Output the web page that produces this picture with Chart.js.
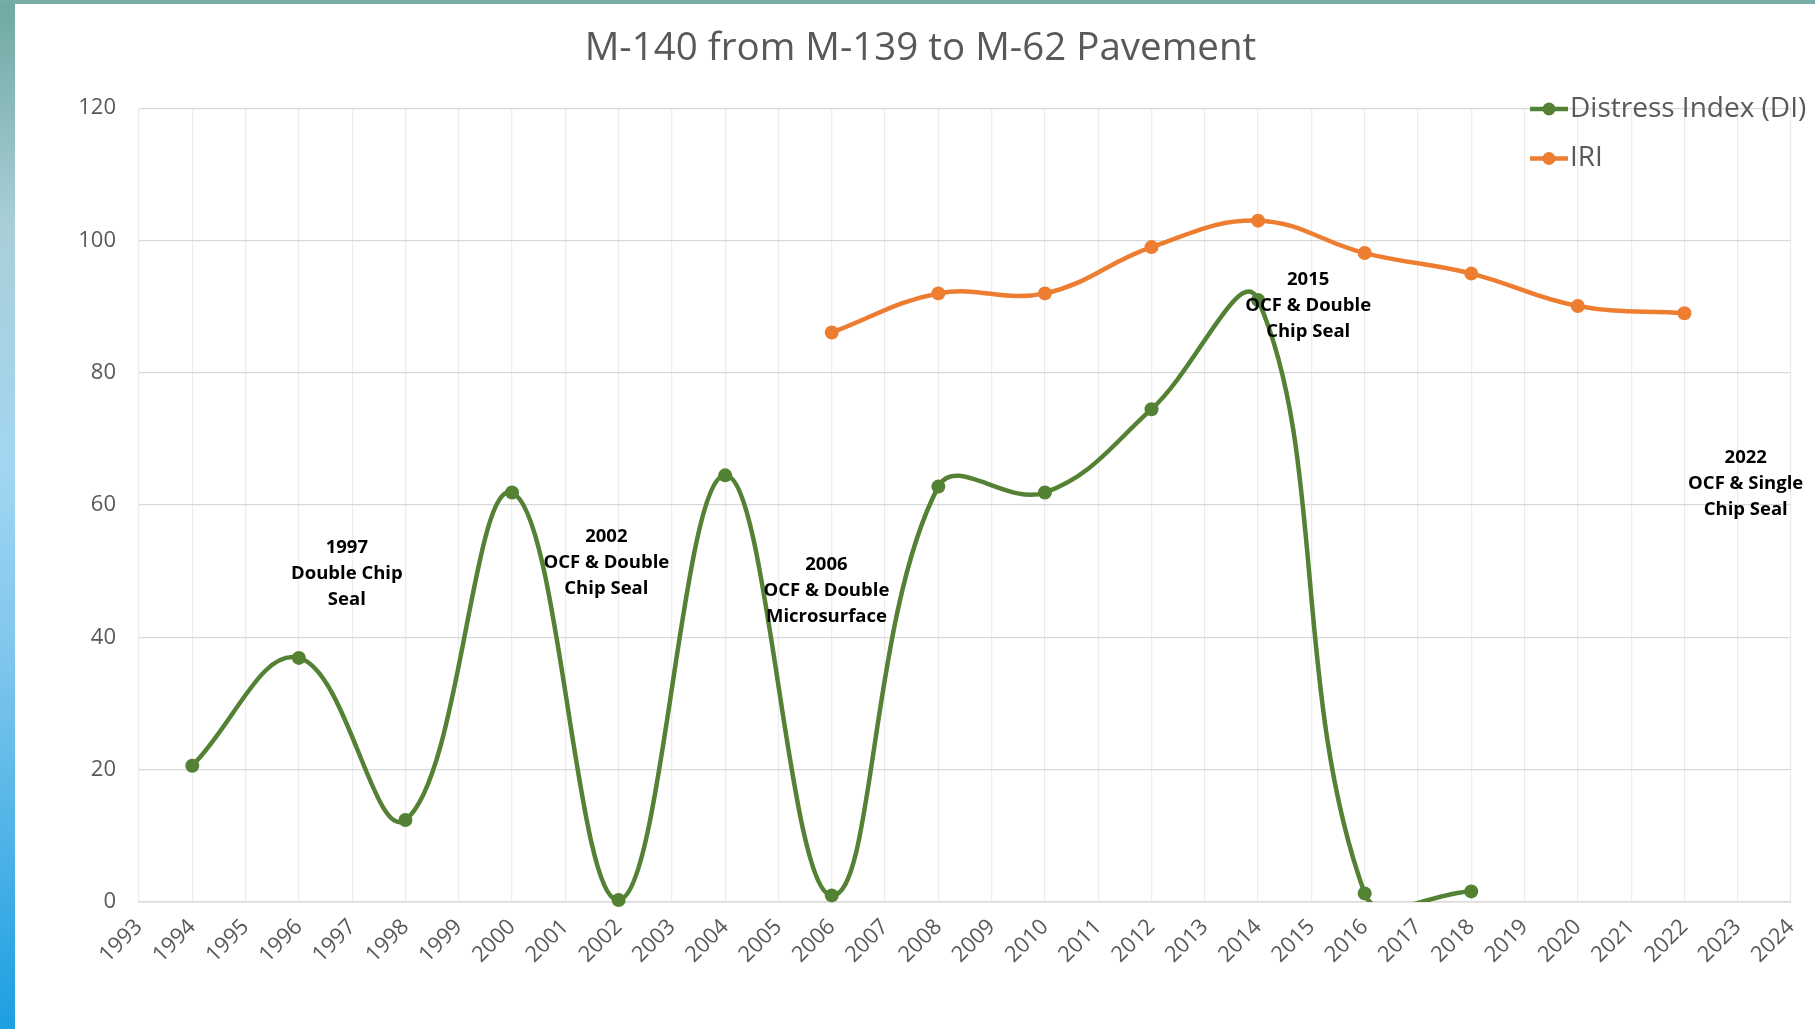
<!DOCTYPE html>
<html>
<head>
<meta charset="utf-8">
<script src="https://cdn.jsdelivr.net/npm/chart.js@4.4.1/dist/chart.umd.min.js"></script>
<style>
  html, body { margin: 0; padding: 0; background: #fff; overflow: hidden; }
  #wrap { position: relative; width: 1815px; height: 1029px; background: #fff; }
  .strip-left {
    position: absolute; left: 0; top: 0; width: 15px; height: 1029px;
    background: linear-gradient(to bottom, #6fa8a2 0%, #a9cfd8 22%, #a3d6f2 45%, #7cc5ec 65%, #1d9fe2 100%);
  }
  .strip-top { position: absolute; left: 0; top: 0; width: 1815px; height: 4px; background: #76aba6; }
  #chart { position: absolute; left: 0; top: 0; }
</style>
</head>
<body>
<div id="wrap">
  <div class="strip-left"></div>
  <div class="strip-top"></div>
  <canvas id="chart" width="1815" height="1029"></canvas>
</div>
<script>
// --- data ---
const diYears  = [1994, 1996, 1998, 2000, 2002, 2004, 2006, 2008, 2010, 2012, 2014, 2016, 2018];
const diValues = [20.6, 36.9, 12.4, 61.9, 0.3, 64.5, 1.0, 62.8, 61.9, 74.5, 91.0, 1.3, 1.6];

const iriYears  = [2006, 2008, 2010, 2012, 2014, 2016, 2018, 2020, 2022];
const iriValues = [86.1, 92.0, 92.0, 99.0, 103.0, 98.1, 95.0, 90.1, 89.0];

const xMin = 1993, xMax = 2024;
const yMin = 0, yMax = 120, yStep = 20;

// treatment notes: anchor year, value of first line, text lines
const noteYears  = [1996.9, 2001.77, 2005.9, 2014.94, 2023.15];
const noteValues = [53.6, 55.2, 51.0, 94.0, 67.2];
const noteLines  = [
  ['1997', 'Double Chip', 'Seal'],
  ['2002', 'OCF & Double', 'Chip Seal'],
  ['2006', 'OCF & Double', 'Microsurface'],
  ['2015', 'OCF & Double', 'Chip Seal'],
  ['2022', 'OCF & Single', 'Chip Seal']
];

const GREEN = '#548235';
const ORANGE = '#ed7d31';
const TEXT = '#595959';
const FONT = "'Open Sans', 'Liberation Sans', sans-serif";

const toPoints = (xs, ys) => xs.map((x, i) => ({ x: x, y: ys[i] }));

// notes drawn in data space
const notesPlugin = {
  id: 'notes',
  afterDatasetsDraw(chart) {
    const { ctx, scales: { x, y } } = chart;
    ctx.save();
    ctx.fillStyle = '#000';
    ctx.font = `bold 18.5px ${FONT}`;
    ctx.textAlign = 'center';
    ctx.textBaseline = 'middle';
    noteYears.forEach((yr, i) => {
      const px = x.getPixelForValue(yr);
      const py = y.getPixelForValue(noteValues[i]);
      noteLines[i].forEach((t, j) => ctx.fillText(t, px, py + j * 26));
    });
    ctx.restore();
  }
};

// legend in the top right corner, over the plot
const cornerLegend = {
  id: 'cornerLegend',
  afterDraw(chart) {
    const ctx = chart.ctx;
    const items = chart.data.datasets.filter(d => d.inLegend);
    ctx.save();
    items.forEach((d, i) => {
      const cy = 109 + i * 49.5;
      ctx.strokeStyle = d.borderColor;
      ctx.lineWidth = 4.5;
      ctx.beginPath(); ctx.moveTo(1530, cy); ctx.lineTo(1568, cy); ctx.stroke();
      ctx.fillStyle = d.borderColor;
      ctx.beginPath(); ctx.arc(1549, cy, 6.5, 0, Math.PI * 2); ctx.fill();
      ctx.fillStyle = TEXT;
      ctx.font = `28px ${FONT}`;
      ctx.textAlign = 'left';
      ctx.textBaseline = 'middle';
      ctx.fillText(d.label, 1570, cy);
    });
    ctx.restore();
  }
};

const lineSet = (label, pts, color) => ({
  label: label, data: pts, inLegend: true,
  borderColor: color, backgroundColor: color, borderWidth: 4.5,
  tension: 0.4, pointRadius: 0, pointHoverRadius: 0,
  clip: { left: false, right: false, top: false, bottom: 0 }
});
const markerSet = (label, pts, color) => ({
  label: label, data: pts, showLine: false,
  borderColor: color, backgroundColor: color,
  pointRadius: 7, pointBorderWidth: 0, clip: false
});

new Chart(document.getElementById('chart'), {
  type: 'line',
  data: {
    datasets: [
      lineSet('Distress Index (DI)', toPoints(diYears, diValues), GREEN),
      lineSet('IRI', toPoints(iriYears, iriValues), ORANGE),
      markerSet('DI markers', toPoints(diYears, diValues), GREEN),
      markerSet('IRI markers', toPoints(iriYears, iriValues), ORANGE)
    ]
  },
  options: {
    responsive: false,
    animation: false,
    layout: { padding: { left: 50, right: 24, top: 0, bottom: 0 } },
    elements: { line: { capBezierPoints: false } },
    plugins: {
      legend: { display: false },
      tooltip: { enabled: false },
      title: {
        display: true,
        text: 'M-140 from M-139 to M-62 Pavement',
        color: TEXT,
        font: { family: FONT, size: 38.5, weight: 'normal' },
        padding: { top: 26, bottom: 36 }
      }
    },
    scales: {
      x: {
        type: 'linear', min: xMin, max: xMax,
        afterFit: (s) => { s.height = 127; s.paddingLeft = 0; s.paddingRight = 0; },
        grid: { color: '#ececec', lineWidth: 1.2, drawTicks: false },
        border: { display: true, color: '#d9d9d9', width: 1.5 },
        ticks: {
          stepSize: 1, autoSkip: false, minRotation: 45, maxRotation: 45, padding: 12,
          color: TEXT, font: { family: FONT, size: 22 },
          callback: (v) => String(v)
        }
      },
      y: {
        min: yMin, max: yMax,
        afterFit: (s) => { s.width = 89; },
        grid: { color: '#d9d9d9', lineWidth: 1.2, drawTicks: false },
        border: { display: false },
        ticks: {
          stepSize: yStep, padding: 23,
          color: TEXT, font: { family: FONT, size: 22 }
        }
      }
    }
  },
  plugins: [notesPlugin, cornerLegend]
});
</script>
</body>
</html>
